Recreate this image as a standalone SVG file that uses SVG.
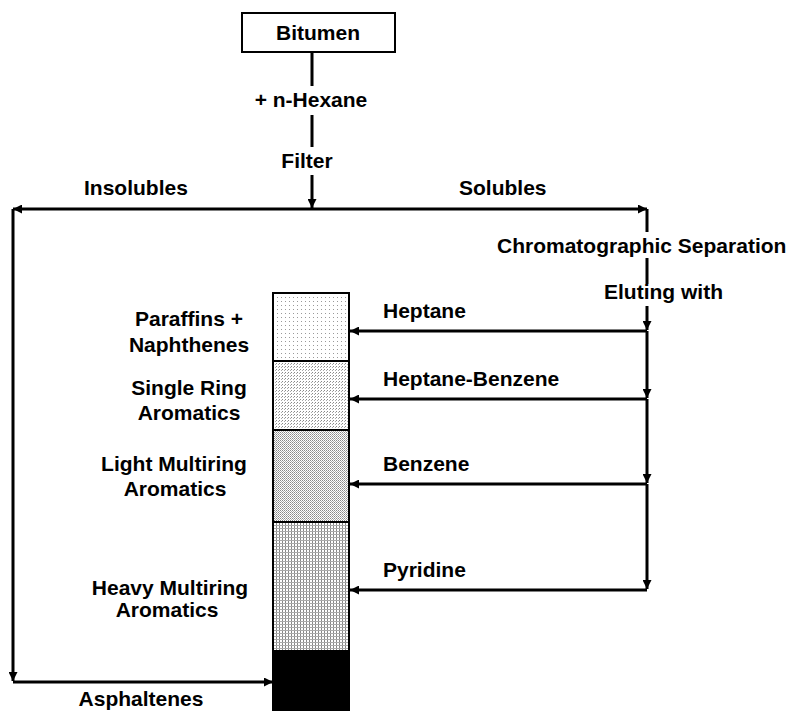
<svg xmlns="http://www.w3.org/2000/svg" width="795" height="711" viewBox="0 0 795 711">
<style>
text{font-family:"Liberation Sans",Arial,sans-serif;font-weight:bold;font-size:21px;fill:#000}
.ln{fill:none;stroke:#000;stroke-width:3}
.arr{marker-end:url(#ah)}
.seg{stroke:#000;stroke-width:2}
</style>
<defs>
<marker id="ah" viewBox="0 0 10 10" refX="10" refY="5" markerWidth="9" markerHeight="9" markerUnits="userSpaceOnUse" orient="auto">
<path d="M0,0 L10,5 L0,10 z" fill="#000"/>
</marker>
<pattern id="p1" width="4" height="4" patternUnits="userSpaceOnUse">
<rect width="4" height="4" fill="#fff"/><rect x="1" y="1" width="1" height="1" fill="#999"/>
</pattern>
<pattern id="p2" width="3" height="3" patternUnits="userSpaceOnUse">
<rect width="3" height="3" fill="#fff"/><rect x="0" y="0" width="1" height="1" fill="#888"/><rect x="2" y="1" width="1" height="1" fill="#aaa"/>
</pattern>
<pattern id="p3" width="2" height="2" patternUnits="userSpaceOnUse">
<rect width="2" height="2" fill="#fff"/><rect x="0" y="0" width="1" height="1" fill="#888"/><rect x="1" y="1" width="1" height="1" fill="#aaa"/>
</pattern>
<pattern id="p4" width="3" height="3" patternUnits="userSpaceOnUse">
<rect width="3" height="3" fill="#fff"/><rect x="0" y="0" width="1" height="3" fill="#888"/><rect x="0" y="0" width="3" height="1" fill="#aaa"/>
</pattern>
</defs>

<g id="bitumen">
<rect x="242" y="13" width="153" height="39" fill="#fff" stroke="#000" stroke-width="2"/>
<text x="318" y="40" text-anchor="middle">Bitumen</text>
</g>

<g id="connectors">
<path class="ln" d="M312,52 V86 M312,115 V147"/>
<path class="ln arr" d="M312,175 V208"/>
<path class="ln arr" d="M312,209 H13"/>
<path class="ln arr" d="M312,209 H647"/>
<path class="ln arr" d="M13,209 V681"/>
<path class="ln arr" d="M13,682 H273"/>
<path class="ln" d="M647,209 V232 M647,258 V284"/>
<path class="ln arr" d="M647,306 V330"/>
<path class="ln arr" d="M647,331 V398"/>
<path class="ln arr" d="M647,399 V483"/>
<path class="ln arr" d="M647,484 V589"/>
<path class="ln arr" d="M647,331 H350"/>
<path class="ln arr" d="M647,399 H350"/>
<path class="ln arr" d="M647,484 H350"/>
<path class="ln arr" d="M647,590 H350"/>
</g>

<g id="step-labels">
<text x="311" y="107" text-anchor="middle">+ n-Hexane</text>
<text x="307" y="168" text-anchor="middle">Filter</text>
<text x="84" y="195">Insolubles</text>
<text x="459" y="195">Solubles</text>
<text x="497" y="253">Chromatographic Separation</text>
<text x="604" y="299">Eluting with</text>
<text x="383" y="318">Heptane</text>
<text x="383" y="386">Heptane-Benzene</text>
<text x="383" y="471">Benzene</text>
<text x="383" y="577">Pyridine</text>
</g>

<g id="column">
<rect x="273" y="293" width="76" height="68" fill="url(#p1)"/>
<rect x="273" y="361" width="76" height="69" fill="url(#p2)"/>
<rect x="273" y="430" width="76" height="92" fill="url(#p3)"/>
<rect x="273" y="522" width="76" height="128" fill="url(#p4)"/>
<rect x="273" y="650" width="76" height="61" fill="#000"/>
<path class="seg" fill="none" d="M273,711 V293 H349 V711 M273,361 H349 M273,430 H349 M273,522 H349"/>
</g>

<g id="fraction-paraffins">
<text x="189" y="326" text-anchor="middle">Paraffins +</text>
<text x="189" y="352" text-anchor="middle">Naphthenes</text>
</g>
<g id="fraction-single-ring">
<text x="189" y="395" text-anchor="middle">Single Ring</text>
<text x="189" y="420" text-anchor="middle">Aromatics</text>
</g>
<g id="fraction-light">
<text x="174" y="471" text-anchor="middle">Light Multiring</text>
<text x="175" y="496" text-anchor="middle">Aromatics</text>
</g>
<g id="fraction-heavy">
<text x="170" y="595" text-anchor="middle">Heavy Multiring</text>
<text x="167" y="617" text-anchor="middle">Aromatics</text>
</g>
<g id="asphaltenes">
<text x="141" y="706" text-anchor="middle">Asphaltenes</text>
</g>
</svg>
